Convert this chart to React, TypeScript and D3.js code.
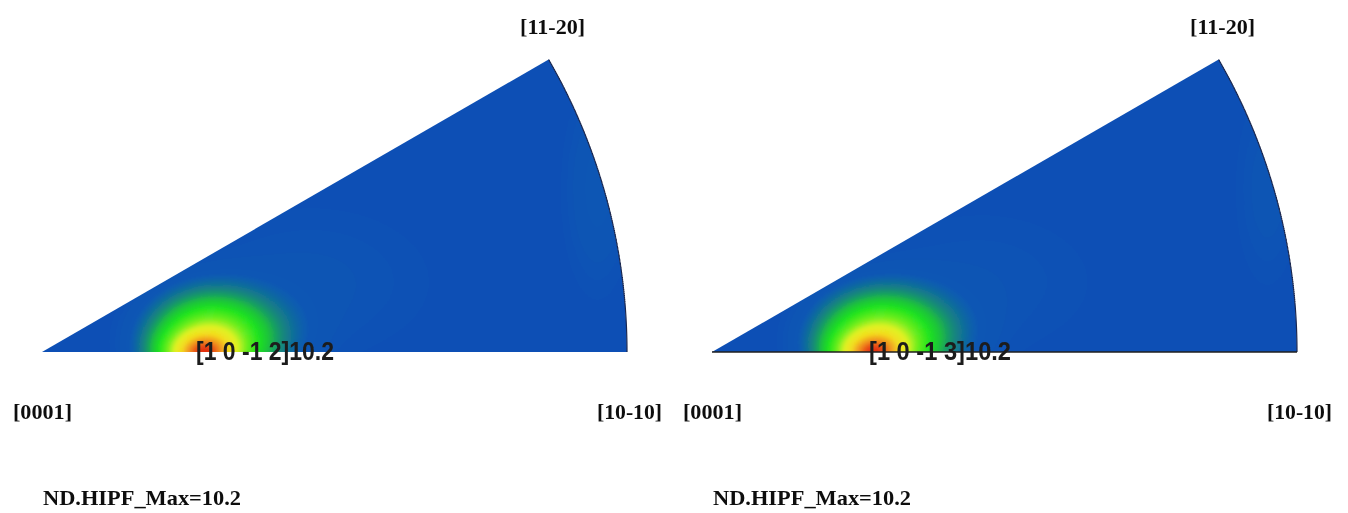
import React, { useMemo } from "react";
import * as d3 from "d3";

// Pole labels of the hexagonal standard triangle
const poleLabels = ["[0001]", "[10-10]", "[11-20]"];
// Labels of the maximum pole in each panel
const peakLabels = ["[1 0 -1 2]", "[1 0 -1 3]"];
const maxValues = [10.2, 10.2];
const titlePrefix = "ND.HIPF_Max=";

// Density components per panel: [u, w, weight, su, sw]
// u, w are in units of the projection radius, measured from [0001]
const leftComponents: number[][] = [
  [0.272, -0.006, 4.2, 0.042, 0.026],
  [0.28, 0.016, 4.4, 0.062, 0.05],
  [0.335, 0.028, 1.3, 0.07, 0.05],
  [0.46, 0.12, 0.35, 0.16, 0.1],
  [0.95, 0.28, 0.55, 0.04, 0.12],
];
const rightComponents: number[][] = [
  [0.272, -0.006, 4.2, 0.042, 0.026],
  [0.28, 0.018, 4.4, 0.064, 0.05],
  [0.335, 0.03, 1.3, 0.07, 0.05],
  [0.46, 0.12, 0.3, 0.16, 0.1],
  [0.95, 0.28, 0.4, 0.04, 0.12],
];

const colorStops = [1.0, 1.6, 2.4, 3.2, 4.0, 5.3, 6.6, 7.9, 9.2, 10.2];
const colorRange = [
  "#0a4fb5",
  "#0c58b4",
  "#168a78",
  "#1ec43a",
  "#20e420",
  "#70ee20",
  "#e0f222",
  "#f4dc20",
  "#f08a20",
  "#e22a10",
];

const W = 1348;
const H = 513;
const R = 585;
const WEDGE = Math.PI / 6;
const origins = [
  [42, 352],
  [712, 352],
];
const STEP = 2;

const color = d3.scaleLinear<string>().domain(colorStops).range(colorRange).clamp(true);

function wedgePath(ox: number, oy: number) {
  const p = d3.path();
  p.moveTo(ox, oy);
  p.lineTo(ox + R, oy);
  p.arc(ox, oy, R, 0, -WEDGE, true);
  p.closePath();
  return p.toString();
}

function densityContours(ox: number, oy: number, comps: number[][], maxV: number) {
  const uScale = d3.scaleLinear().domain([0, 1]).range([ox, ox + R]);
  const wScale = d3.scaleLinear().domain([0, 1]).range([oy, oy - R]);
  const x0 = uScale(-0.02);
  const y0 = wScale(0.54);
  const x1 = uScale(1.03);
  const y1 = wScale(-0.05);
  const nx = Math.ceil((x1 - x0) / STEP) + 1;
  const ny = Math.ceil((y1 - y0) / STEP) + 1;
  const raw = new Float64Array(nx * ny);
  let rmax = 0;
  for (let j = 0; j < ny; j++) {
    const w = wScale.invert(y0 + j * STEP);
    for (let i = 0; i < nx; i++) {
      const u = uScale.invert(x0 + i * STEP);
      let s = 0;
      for (const [cu, cw, a, su, sw] of comps) {
        const du = (u - cu) / su;
        const dw = (w - cw) / sw;
        s += a * Math.exp(-0.5 * (du * du + dw * dw));
      }
      raw[j * nx + i] = s;
      // the maximum is taken inside the triangle only
      if (w >= 0 && s > rmax) rmax = s;
    }
  }
  const base = 1.0;
  const k = (maxV - base) / rmax;
  const values = Array.from(raw, (s) => base + s * k);
  const thresholds = d3.range(1.0, maxV + 0.001, 0.08);
  const contours = d3.contours().size([nx, ny]).thresholds(thresholds)(values);
  const path = d3.geoPath(d3.geoIdentity().scale(STEP).translate([x0 - STEP / 2, y0 - STEP / 2]) as any);
  return contours.map((c) => ({ d: path(c as any) || "", fill: color(c.value) }));
}

export default function App() {
  const panels = useMemo(
    () =>
      origins.map(([ox, oy], idx) => ({
        ox,
        oy,
        wedge: wedgePath(ox, oy),
        bands: densityContours(ox, oy, idx === 0 ? leftComponents : rightComponents, maxValues[idx]),
      })),
    []
  );

  const serif = "'Liberation Serif', 'Times New Roman', serif";
  const sans = "'Liberation Sans', Arial, sans-serif";

  return (
    <svg
      width={W}
      height={H}
      viewBox={`0 0 ${W} ${H}`}
      style={{ position: "absolute", left: 0, top: 0, background: "#fff" }}
    >
      <defs>
        {panels.map((p, i) => (
          <clipPath id={`wedge-${i}`} key={i}>
            <path d={p.wedge} />
          </clipPath>
        ))}
        <filter id="soft" x="-5%" y="-5%" width="110%" height="110%">
          <feGaussianBlur stdDeviation="1.5" />
        </filter>
        <filter id="textSoft">
          <feGaussianBlur stdDeviation="0.35" />
        </filter>
      </defs>
      {panels.map((p, i) => {
        const { ox, oy } = p;
        const tx = ox + R * Math.cos(WEDGE);
        const peakX = ox + 0.265 * R;
        return (
          <g key={i}>
            <g clipPath={`url(#wedge-${i})`}>
              <g filter="url(#soft)">
                {p.bands.map((b, j) => (
                  <path key={j} d={b.d} fill={b.fill} />
                ))}
              </g>
            </g>
            <path
              d={d3.arc()({ innerRadius: R, outerRadius: R, startAngle: Math.PI / 2 - WEDGE, endAngle: Math.PI / 2 }) || ""}
              transform={`translate(${ox},${oy})`}
              fill="none"
              stroke="#1b2850"
              strokeWidth={1.2}
              strokeDasharray="3 1"
            />
            {i === 1 && <line x1={ox} y1={oy} x2={ox + R} y2={oy} stroke="#1f1f1f" strokeWidth={1.4} />}
            <g fill="#111" fontFamily={serif} fontWeight="bold" fontSize={22} filter="url(#textSoft)">
              <text x={tx + 4} y={34} textAnchor="middle" textLength={65} lengthAdjust="spacingAndGlyphs">
                {poleLabels[2]}
              </text>
              <text x={ox - 29} y={419} textLength={59} lengthAdjust="spacingAndGlyphs">
                {poleLabels[0]}
              </text>
              <text x={ox + R - 30} y={419} textLength={65} lengthAdjust="spacingAndGlyphs">
                {poleLabels[1]}
              </text>
              <text x={ox + 1} y={505} textLength={198} lengthAdjust="spacingAndGlyphs">
                {titlePrefix + maxValues[i].toFixed(1)}
              </text>
            </g>
            <text
              x={peakX - 1 + (i === 1 ? 3 : 0)}
              y={360}
              fontFamily={sans}
              fontWeight="bold"
              fontSize={25}
              fill="#1c1c1c"
              textLength={i === 1 ? 142 : 138}
              lengthAdjust="spacingAndGlyphs"
              filter="url(#textSoft)"
            >
              {peakLabels[i] + maxValues[i].toFixed(1)}
            </text>
          </g>
        );
      })}
    </svg>
  );
}
